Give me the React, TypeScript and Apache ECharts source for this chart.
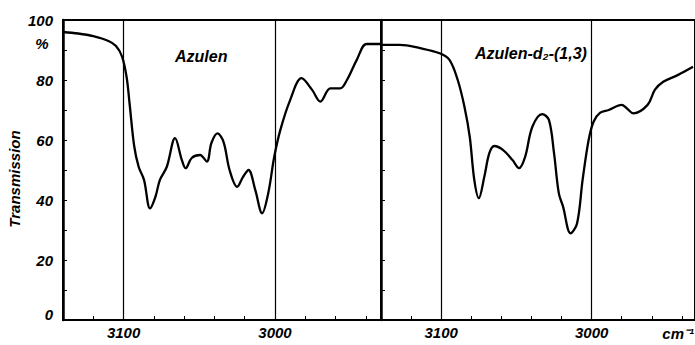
import React, { useEffect, useRef } from "react";
import * as echarts from "echarts";

const leftWavenumbers = [3140, 3130, 3120, 3110, 3105, 3101, 3098, 3096, 3093, 3090, 3086.5, 3082.5, 3079, 3076, 3071.5, 3066, 3061.5, 3059, 3055, 3049.5, 3045, 3042, 3038, 3034, 3030, 3025, 3021, 3017.5, 3013, 3008.5, 3004.5, 3000.5, 2996.5, 2990, 2982.5, 2975.5, 2970, 2963.5, 2957, 2952.5, 2946, 2939.5, 2930];
const leftTransmission = [96, 95.5, 94.6, 93, 91.3, 87.8, 81, 72, 58, 51, 46.7, 37.2, 41, 46.7, 51, 60.6, 53.3, 50.6, 54, 55, 52.8, 59, 62.2, 59.4, 50, 44.4, 47.8, 50, 43.3, 35.6, 42.2, 54.4, 63.3, 73.3, 80.6, 76.7, 72.8, 77.2, 77.2, 80, 86.7, 92, 92];

const rightWavenumbers = [3140, 3127.5, 3114, 3101, 3094.5, 3089, 3084.5, 3081, 3078, 3075, 3071.3, 3068, 3064.7, 3059, 3052.6, 3048.2, 3044.2, 3039.4, 3032.8, 3028.4, 3025, 3021.8, 3019, 3014, 3009.7, 3006, 3002, 2998.7, 2994.3, 2988.7, 2980, 2976.7, 2972.2, 2962.8, 2958, 2952.4, 2942.5, 2932.6];
const rightTransmission = [91.7, 91.7, 90.6, 88.9, 86.7, 80, 71, 61, 46.7, 40.6, 47.8, 55.6, 58, 56.7, 53.3, 50.6, 54.4, 64.4, 68.6, 66.7, 55.6, 42.2, 37.8, 28.9, 32.2, 46.7, 60, 66.1, 69.1, 70, 71.7, 70.6, 68.9, 71.7, 76.7, 79.4, 81.7, 84.4];

const xTickValues = [3120, 3100, 3080, 3060, 3040, 3020, 3000, 2980, 2960, 2940];
const xLabelValues = [3100, 3000];
const verticalLines = [3100, 3000];
const panelTitles = ["Azulen", "Azulen-d₂-(1,3)"];
const yAxisTitle = "Transmission";
const yUnit = "%";
const xUnit = "cm⁻¹";

const FONT = "'Liberation Sans', Arial, sans-serif";

export default function App() {
  const ref = useRef<HTMLDivElement>(null);
  useEffect(() => {
    if (!ref.current) return;
    const chart = echarts.init(ref.current, undefined, { renderer: "svg" });
    const labelStyle = {
      fontFamily: FONT,
      fontStyle: "italic" as const,
      fontWeight: "bold" as const,
      fontSize: 15,
      color: "#000",
    };
    const makeX = (gridIndex: number, min: number) => ({
      type: "value" as const,
      gridIndex,
      inverse: true,
      min,
      max: 3140,
      axisLine: { show: true, onZero: false, lineStyle: { color: "#000", width: 2 } },
      axisTick: { show: true, inside: true, length: 4, customValues: xTickValues, lineStyle: { color: "#000", width: 1 } },
      axisLabel: { ...labelStyle, customValues: xLabelValues, margin: 5, formatter: (v: number) => String(v) },
      splitLine: { show: false },
    });
    const makeY = (gridIndex: number, showLabels: boolean) => ({
      type: "value" as const,
      gridIndex,
      min: 0,
      max: 100,
      interval: 10,
      axisLine: { show: true, lineStyle: { color: "#000", width: 2.5 } },
      axisTick: { show: true, inside: true, length: 4, lineStyle: { color: "#000", width: 1 } },
      axisLabel: {
        show: showLabels,
        ...labelStyle,
        margin: 10,
        formatter: (v: number) => (v === 0 ? "{z|0}" : v % 20 === 0 ? String(v) : ""),
        rich: { z: { ...labelStyle, padding: [0, 0, 12, 0] } },
      },
      splitLine: { show: false },
    });
    const markLine = {
      silent: true,
      symbol: "none",
      label: { show: false },
      lineStyle: { color: "#000", type: "solid" as const, width: 1.2 },
      data: verticalLines.map((v) => ({ xAxis: v })),
    };
    chart.setOption({
      animation: false,
      backgroundColor: "#fff",
      grid: [
        { left: 63, top: 20, width: 318, height: 300, show: true, borderColor: "#000", borderWidth: 2, backgroundColor: "transparent" },
        { left: 381, top: 20, width: 316, height: 300, show: true, borderColor: "#000", borderWidth: 2, backgroundColor: "transparent" },
      ],
      xAxis: [makeX(0, 2930), makeX(1, 2931.3)],
      yAxis: [makeY(0, true), makeY(1, false)],
      series: [
        {
          type: "line",
          xAxisIndex: 0,
          yAxisIndex: 0,
          data: leftWavenumbers.map((w, i) => [w, leftTransmission[i]]),
          smooth: 0.35,
          showSymbol: false,
          lineStyle: { color: "#000", width: 2.3 },
          markLine,
        },
        {
          type: "line",
          xAxisIndex: 1,
          yAxisIndex: 1,
          data: rightWavenumbers.map((w, i) => [w, rightTransmission[i]]),
          smooth: 0.35,
          showSymbol: false,
          lineStyle: { color: "#000", width: 2.3 },
          markLine,
        },
      ],
      graphic: [
        { type: "text", x: 42, y: 43, style: { text: yUnit, fill: "#000", font: `italic bold 15px ${FONT}`, align: "center", verticalAlign: "middle" } },
        { type: "text", x: 14, y: 179, rotation: Math.PI / 2, style: { text: yAxisTitle, fill: "#000", font: `italic bold 15px ${FONT}`, align: "center", verticalAlign: "middle" } },
        { type: "text", x: 175, y: 56, style: { text: panelTitles[0], fill: "#000", font: `italic bold 16px ${FONT}`, align: "left", verticalAlign: "middle" } },
        { type: "text", x: 475, y: 53, style: { text: panelTitles[1], fill: "#000", font: `italic bold 16px ${FONT}`, align: "left", verticalAlign: "middle" } },
        { type: "text", x: 694, y: 333, style: { text: xUnit, fill: "#000", font: `italic bold 15px ${FONT}`, align: "right", verticalAlign: "middle" } },
      ],
    });
    return () => chart.dispose();
  }, []);
  return <div ref={ref} style={{ position: "fixed", left: 0, top: 0, width: 695, height: 345 }} />;
}
